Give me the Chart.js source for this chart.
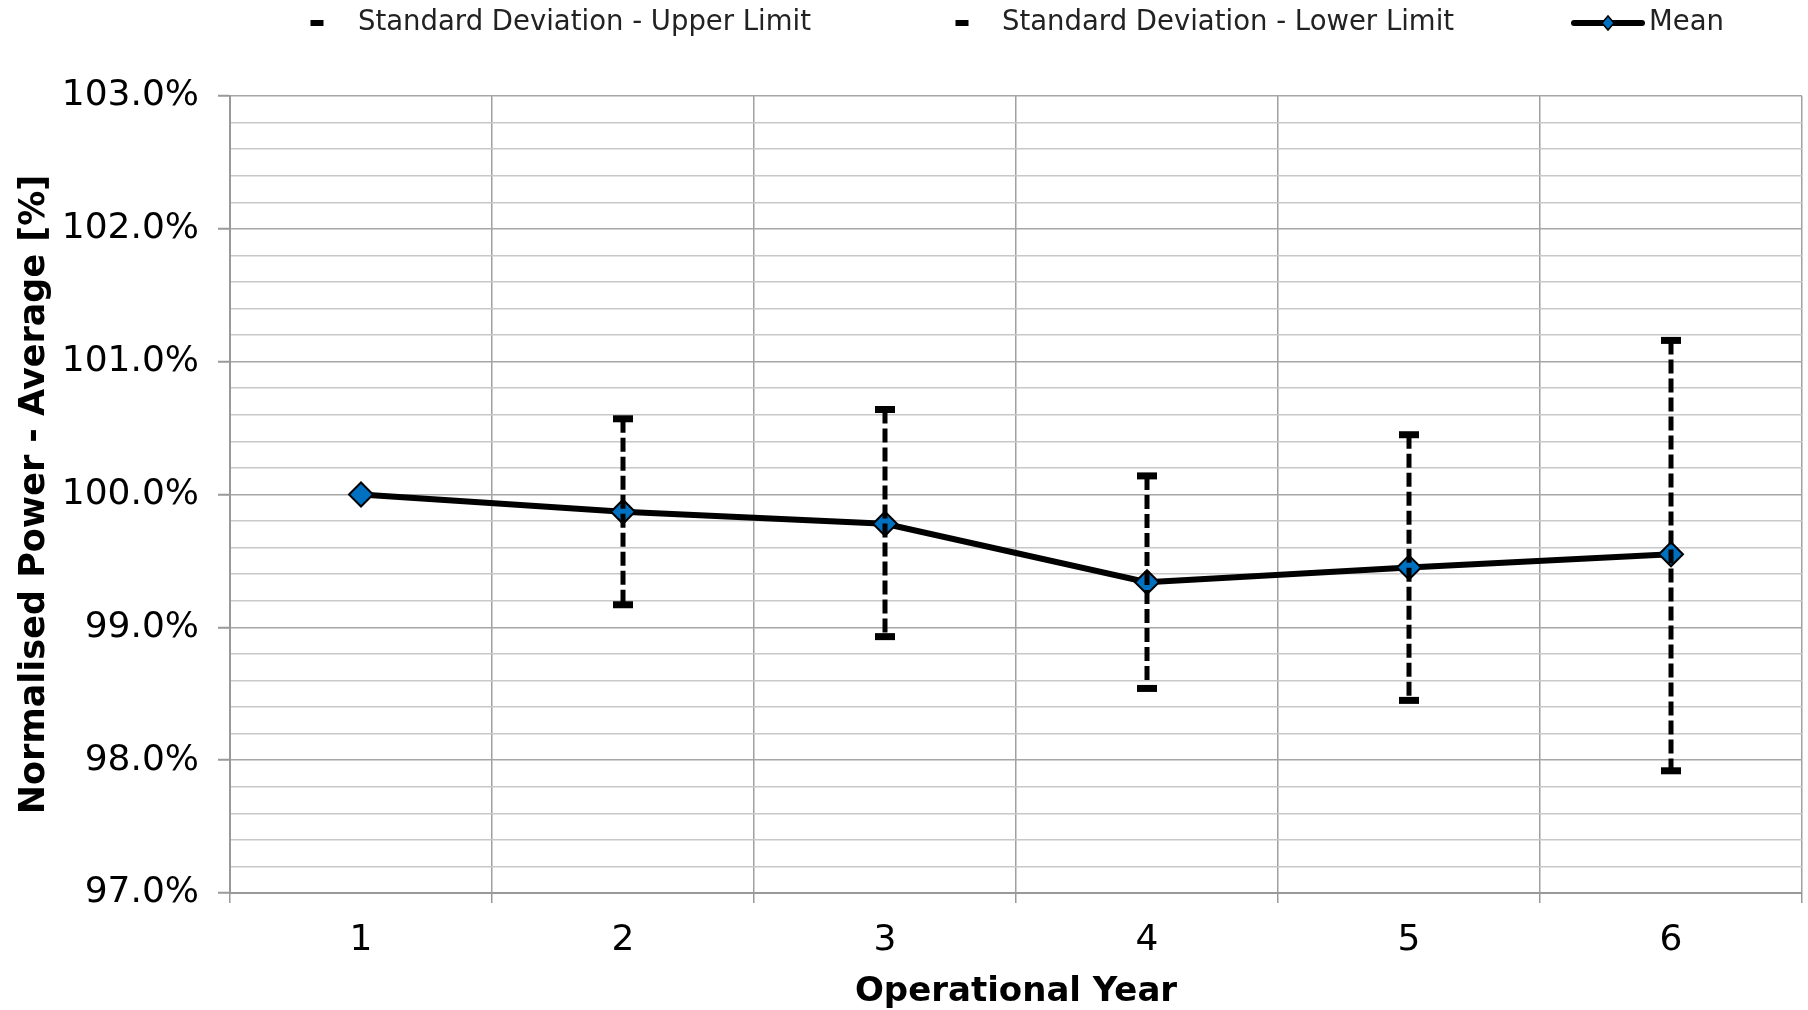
<!DOCTYPE html>
<html>
<head>
<meta charset="utf-8">
<script src="https://cdn.jsdelivr.net/npm/chart.js@4.4.1/dist/chart.umd.min.js"></script>
<style>
html,body{margin:0;padding:0;background:#fff;overflow:hidden;}
#wrap{width:1808px;height:1010px;overflow:hidden;}
canvas{display:block;}
</style>
</head>
<body>
<div id="wrap"><canvas id="c" width="1808" height="1010"></canvas></div>
<script>
// ---- data ----
const years = ['1', '2', '3', '4', '5', '6'];
const meanValues = [100.0, 99.87, 99.78, 99.34, 99.45, 99.55];
const upperLimit = [null, 100.57, 100.64, 100.14, 100.45, 101.16];
const lowerLimit = [null, 99.17, 98.93, 98.54, 98.45, 97.92];
const seriesNames = ['Standard Deviation - Upper Limit', 'Standard Deviation - Lower Limit', 'Mean'];
const yMin = 97, yMax = 103, yMinorStep = 0.2;
const xTitle = 'Operational Year';
const yTitle = 'Normalised Power - Average [%]';

// ---- styling ----
const FONT = "'DejaVu Sans', Verdana, sans-serif";
Chart.defaults.font.family = FONT;
Chart.defaults.color = '#000';
const isMajor = v => Math.abs(v - Math.round(v)) < 1e-6;

const errorLines = {
  id: 'errorLines',
  afterDatasetsDraw(chart) {
    const up = chart.getDatasetMeta(0).data;
    const lo = chart.getDatasetMeta(1).data;
    const ctx = chart.ctx;
    ctx.save();
    ctx.strokeStyle = '#000';
    ctx.lineWidth = 5;
    ctx.lineCap = 'butt';
    ctx.setLineDash([14, 5]);
    up.forEach((p, i) => {
      const q = lo[i];
      if (!p || !q || p.skip || q.skip) return;
      ctx.beginPath();
      ctx.moveTo(p.x, p.y);
      ctx.lineTo(q.x, q.y);
      ctx.stroke();
    });
    ctx.restore();
  }
};

const customLegend = {
  id: 'customLegend',
  afterDraw(chart) {
    const ctx = chart.ctx;
    const y = 23;
    const items = [
      {text: seriesNames[0], kind: 'dash', mx: 317, tx: 358},
      {text: seriesNames[1], kind: 'dash', mx: 962, tx: 1002},
      {text: seriesNames[2], kind: 'line', mx: 1608, tx: 1649}
    ];
    ctx.save();
    ctx.font = '27.5px ' + FONT;
    ctx.textBaseline = 'middle';
    ctx.textAlign = 'left';
    items.forEach(it => {
      if (it.kind === 'dash') {
        ctx.fillStyle = '#000';
        ctx.fillRect(it.mx - 6.5, y - 3, 13, 6);
      } else {
        ctx.strokeStyle = '#000';
        ctx.lineWidth = 6;
        ctx.lineCap = 'round';
        ctx.beginPath();
        ctx.moveTo(it.mx - 34, y);
        ctx.lineTo(it.mx + 34, y);
        ctx.stroke();
        ctx.beginPath();
        ctx.moveTo(it.mx - 6, y);
        ctx.lineTo(it.mx, y - 7);
        ctx.lineTo(it.mx + 6, y);
        ctx.lineTo(it.mx, y + 7);
        ctx.closePath();
        ctx.fillStyle = '#0070C0';
        ctx.fill();
        ctx.lineWidth = 1.5;
        ctx.stroke();
      }
      ctx.fillStyle = '#222';
      ctx.fillText(it.text, it.tx, y);
    });
    ctx.restore();
  }
};

new Chart(document.getElementById('c'), {
  type: 'line',
  data: {
    labels: years,
    datasets: [
      {
        label: seriesNames[0], data: upperLimit, showLine: false,
        pointStyle: 'line', pointRadius: 10, pointHoverRadius: 10,
        pointBorderWidth: 7, pointBorderColor: '#000', borderColor: '#000', backgroundColor: '#000'
      },
      {
        label: seriesNames[1], data: lowerLimit, showLine: false,
        pointStyle: 'line', pointRadius: 10, pointHoverRadius: 10,
        pointBorderWidth: 7, pointBorderColor: '#000', borderColor: '#000', backgroundColor: '#000'
      },
      {
        label: seriesNames[2], data: meanValues,
        borderColor: '#000', borderWidth: 6, tension: 0,
        pointStyle: 'rectRot', pointRadius: 12, pointHoverRadius: 12,
        pointBackgroundColor: '#0070C0', pointBorderColor: '#000', pointBorderWidth: 2
      }
    ]
  },
  options: {
    responsive: false,
    animation: false,
    devicePixelRatio: 1,
    layout: {autoPadding: false, padding: {top: 96, right: 6, bottom: 0, left: 0}},
    plugins: {legend: {display: false}, tooltip: {enabled: false}},
    scales: {
      x: {
        type: 'category',
        offset: true,
        afterFit(s) { s.height = 117; s.paddingLeft = 0; s.paddingRight = 0; },
        border: {display: true, color: '#999', width: 2},
        grid: {offset: true, color: '#a0a0a0', lineWidth: 1.5, tickLength: 10, tickColor: '#999', tickWidth: 1.5},
        ticks: {color: '#000', font: {size: 36}, padding: 16, maxRotation: 0},
        title: {display: true, text: xTitle, color: '#000', font: {size: 34, weight: 'bold'}, padding: {top: 0, bottom: -3}}
      },
      y: {
        min: yMin, max: yMax,
        afterFit(s) { s.width = 230; },
        border: {display: true, color: '#999', width: 2},
        grid: {
          color: c => isMajor(c.tick.value) ? '#a6a6a6' : '#c8c8c8',
          lineWidth: 1.5,
          tickLength: 12,
          tickWidth: 2,
          tickColor: c => isMajor(c.tick.value) ? '#999' : 'rgba(0,0,0,0)'
        },
        ticks: {
          stepSize: yMinorStep, autoSkip: false, padding: 19, color: '#000', font: {size: 36},
          callback: v => isMajor(v) ? v.toFixed(1) + '%' : ''
        },
        title: {display: true, text: yTitle, color: '#000', font: {size: 35, weight: 'bold'}, padding: {top: 14, bottom: 0}}
      }
    }
  },
  plugins: [errorLines, customLegend]
});
</script>
</body>
</html>
